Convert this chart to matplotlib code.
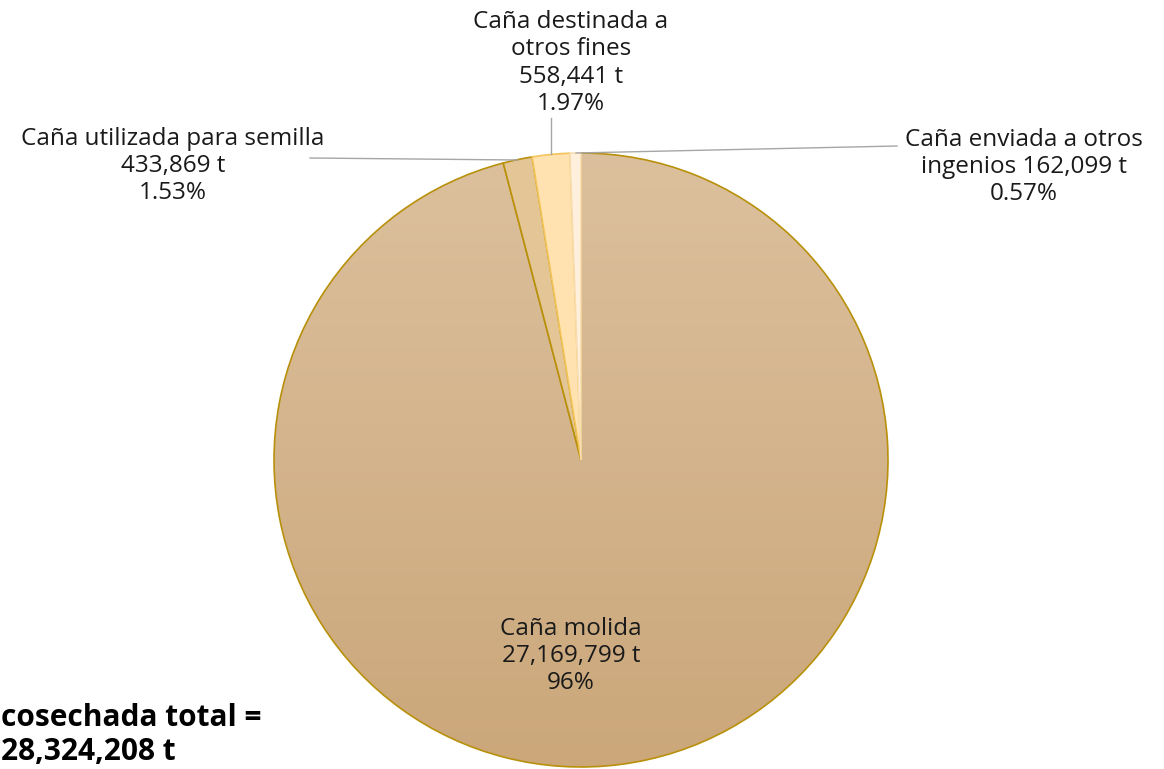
import numpy as np
import matplotlib
matplotlib.use("Agg")
import matplotlib.pyplot as plt
from matplotlib.colors import LinearSegmentedColormap

# ---- data ----
categories = ["Caña molida", "Caña utilizada para semilla",
              "Caña destinada a otros fines", "Caña enviada a otros ingenios"]
values = [27169799, 433869, 558441, 162099]
pct_labels = ["96%", "1.53%", "1.97%", "0.57%"]
total_label = "28,324,208 t"

W, H = 1164, 769
fig = plt.figure(figsize=(W / 100, H / 100), dpi=100)
ax = fig.add_axes([0, 0, 1, 1])

cx, cy, r = 581, H - 460, 307
face = ["none", "#E3C596", "#FFE2B0", "#FFF0DE"]
edges = ["#B8900A", "#B8900A", "#F2C45A", "#F8DDB0"]
wedges, _ = ax.pie(values, startangle=90, counterclock=False,
                   center=(cx, cy), radius=r, colors=face,
                   wedgeprops=dict(linewidth=1.2))
for w, ec in zip(wedges, edges):
    w.set_edgecolor(ec)

# gradient fill for main slice
cmap = LinearSegmentedColormap.from_list("g", ["#DCC09D", "#CBA77A"])
grad = np.linspace(0, 1, 256).reshape(-1, 1)
im = ax.imshow(grad, cmap=cmap, extent=(cx - r, cx + r, cy - r, cy + r),
               origin="upper", aspect="auto", zorder=0)
im.set_clip_path(wedges[0])
wedges[0].set_zorder(1)

ax.set_xlim(0, W)
ax.set_ylim(0, H)
ax.set_aspect("equal")
ax.axis("off")

font = "Open Sans"
fs = 17.5

def fmt(v):
    return f"{v:,}"

def Y(py):
    return H - py

txt = dict(family=font, fontsize=fs, color="#1a1a1a", ha="center",
           va="center", linespacing=1.17)

ax.text(571, Y(656), f"{categories[0]}\n{fmt(values[0])} t\n{pct_labels[0]}", **txt)
ax.text(173, Y(166), f"{categories[1]}\n{fmt(values[1])} t\n{pct_labels[1]}", **txt)
ax.text(571, Y(63), "Caña destinada a\notros fines\n" + f"{fmt(values[2])} t\n{pct_labels[2]}", **txt)
ax.text(1024, Y(167), "Caña enviada a otros\n" + f"ingenios {fmt(values[3])} t\n{pct_labels[3]}", **txt)

# leader lines
lc = "#A6A6A6"
ax.plot([310, 518], [Y(158), Y(160)], color=lc, lw=1)
ax.plot([551, 551], [Y(118), Y(154)], color=lc, lw=1)
ax.plot([576, 897], [Y(153), Y(146)], color=lc, lw=1)

# total (left part is outside the figure in the reference)
bold = dict(family=font, fontsize=21.5, fontweight="bold",
            color="black", ha="left", va="center")
ax.text(1, Y(718), "cosechada total =", **bold)
ax.text(1, Y(752), total_label, **bold)

fig.savefig("out.png", dpi=100)
